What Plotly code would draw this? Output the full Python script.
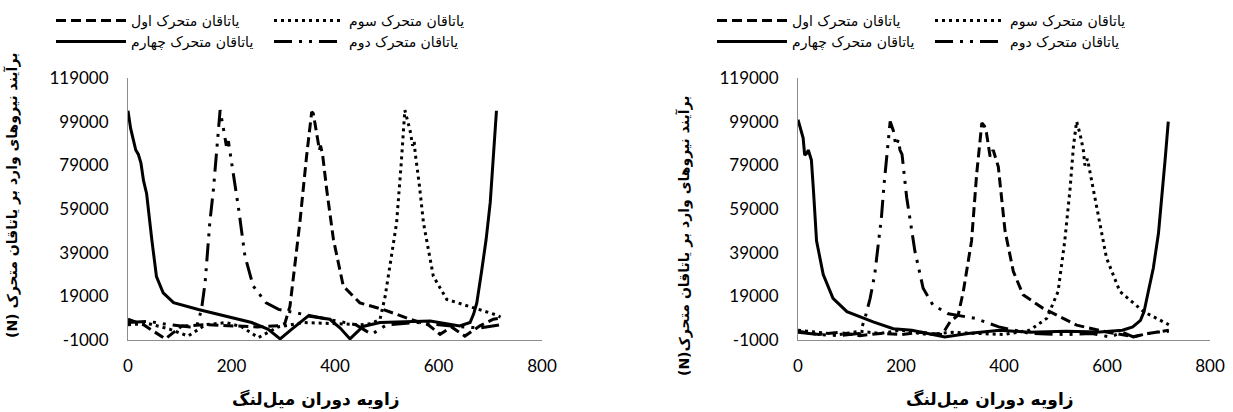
import plotly.graph_objects as go

# ---------------- data ----------------
# Left chart
L1_x = [0, 30, 72, 104, 150, 200, 250, 290, 303, 313, 322, 332, 345, 355, 358, 365, 370, 372, 376, 384, 397, 416, 448, 493, 545, 580, 603, 625, 651, 680, 706, 720]
L1_y = [8500, 6000, -500, 5400, 6000, 5500, 5000, 5500, 6500, 14500, 33000, 52600, 83000, 103500, 102800, 92000, 86000, 88000, 84000, 67800, 45000, 23700, 16000, 13000, 8500, 6000, 1600, 5000, 800, 5500, 8500, 9000]

L2_x = [0, 40, 80, 120, 133, 142, 149, 158, 165, 171, 175, 178, 185, 190, 194, 197, 204, 214, 226, 242, 267, 291, 355, 400, 440, 471, 500, 560, 620, 680, 720]
L2_y = [7000, 7500, 6000, 5000, 5400, 13000, 25200, 52600, 67800, 83000, 95000, 104300, 95000, 88000, 90000, 85300, 75400, 58700, 37400, 23700, 16000, 13000, 10000, 7700, 6000, 1600, 6000, 7000, 5500, 4500, 6000]

L3_x = [0, 40, 80, 116, 150, 190, 220, 252, 290, 340, 400, 450, 470, 487, 497, 508, 519, 528, 535, 545, 550, 553, 555, 563, 571, 590, 616, 667, 709, 720]
L3_y = [6000, 6500, 4000, 800, 6000, 7000, 5000, 100, 5000, 7000, 6500, 6000, 6500, 8500, 19100, 35000, 52600, 80000, 104300, 95000, 88000, 90000, 84600, 70000, 52600, 28200, 17600, 13800, 10700, 9500]

L4_x = [0, 5, 10, 15, 20, 25, 30, 36, 46, 55, 68, 88, 136, 187, 239, 271, 294, 316, 348, 390, 410, 429, 454, 487, 584, 641, 661, 668, 674, 683, 692, 700, 706, 712]
L4_y = [104000, 96000, 91000, 86000, 84000, 80000, 72000, 66000, 45000, 28000, 20600, 16100, 13000, 10000, 7000, 3900, -500, 3900, 10000, 8500, 4500, -500, 5200, 7000, 7700, 5400, 7000, 11000, 16000, 30000, 45000, 62000, 82000, 104000]

# Right chart
R1_x = [0, 40, 80, 120, 160, 200, 240, 280, 295, 311, 321, 337, 347, 357, 362, 366, 373, 379, 389, 402, 418, 437, 476, 541, 599, 630, 651, 680, 716, 720]
R1_y = [3000, 1500, 2500, 1000, 2000, 1500, 2500, 1500, 7300, 10400, 21200, 44400, 75200, 98400, 97000, 93800, 83000, 86000, 78300, 49000, 30500, 19700, 13500, 5800, 2700, 1500, 500, 2000, 3500, 3500]

R2_x = [0, 40, 80, 120, 130, 140, 149, 156, 162, 167, 172, 179, 185, 190, 195, 198, 202, 211, 227, 243, 262, 292, 344, 390, 450, 520, 570, 606, 630, 651, 690, 720]
R2_y = [2500, 1500, 1000, 2000, 8900, 18000, 29000, 42000, 55200, 70000, 83000, 99100, 95000, 88000, 90700, 86000, 84000, 64400, 39700, 22700, 15000, 11000, 8900, 5000, 2000, 1500, 2000, 400, 2500, 400, 2500, 3000]

R3_x = [0, 40, 80, 120, 160, 200, 250, 300, 350, 400, 450, 483, 505, 518, 528, 535, 541, 548, 554, 557, 562, 580, 599, 625, 671, 716, 720]
R3_y = [3500, 2500, 1500, 3000, 2000, 3500, 1500, 2500, 2000, 1500, 3500, 8900, 21200, 44400, 67500, 88000, 99100, 93000, 86000, 79000, 82000, 59800, 36600, 21200, 12000, 6500, 6000]

R4_x = [0, 5, 10, 13, 17, 20, 26, 30, 36, 49, 68, 95, 146, 185, 221, 285, 330, 392, 450, 520, 586, 630, 650, 665, 672, 680, 690, 700, 707, 713, 719]
R4_y = [99900, 95000, 91500, 83700, 84500, 86000, 81400, 67500, 44400, 29000, 18100, 12000, 7300, 4200, 3500, 400, 2000, 3500, 2500, 3000, 2700, 3500, 5000, 8000, 12000, 21000, 32000, 48000, 65000, 82000, 99000]

names = ["یاتاقان متحرک اول", "یاتاقان متحرک دوم", "یاتاقان متحرک سوم", "یاتاقان متحرک چهارم"]
y_ticks = [-1000, 19000, 39000, 59000, 79000, 99000, 119000]
y_tick_text = ["-1000", "19000", "39000", "59000", "79000", "99000", "119000"]
x_ticks = [0, 200, 400, 600, 800]
x_tick_text = ["0", "200", "400", "600", "800"]
x_title = "زاویه دوران میل\u200cلنگ"
y_title_left = "(N) برآیند نیروهای وارد بر یاتاقان متحرک"
y_title_right = "(N)برآیند نیروهای وارد بر یاتاقان متحرک"

# ---------------- styles ----------------
W = 3
dash_1 = "10px,5px"
dash_2 = "18px,7px,3px,7px,3px,7px"
dash_3 = "3px,4px"
dash_4 = "solid"

fig = go.Figure()

def add(x, y, name, dash, xa, ya, legend):
    fig.add_trace(go.Scatter(x=x, y=y, name=name, mode="lines",
                             line=dict(color="black", width=W, dash=dash),
                             xaxis=xa, yaxis=ya, legend=legend))

# left: row1 legend -> اول, سوم ; row2 -> چهارم, دوم
add(L1_x, L1_y, names[0], dash_1, "x", "y", "legend")
add(L3_x, L3_y, names[2], dash_3, "x", "y", "legend")
add(L4_x, L4_y, names[3], dash_4, "x", "y", "legend2")
add(L2_x, L2_y, names[1], dash_2, "x", "y", "legend2")
# right
add(R1_x, R1_y, names[0], dash_1, "x2", "y2", "legend3")
add(R3_x, R3_y, names[2], dash_3, "x2", "y2", "legend3")
add(R4_x, R4_y, names[3], dash_4, "x2", "y2", "legend4")
add(R2_x, R2_y, names[1], dash_2, "x2", "y2", "legend4")

FW, FH = 1233, 412
tick_font = dict(family="Lato", size=17, color="black")
fa_font = dict(family="DejaVu Sans", size=14, color="black")
title_font = dict(family="DejaVu Sans", size=17, color="black")
ytitle_font = dict(family="DejaVu Sans", size=14, color="black")

def xaxis(dom, anchor):
    return dict(domain=dom, anchor=anchor, range=[0, 800], tickvals=x_ticks,
                ticktext=x_tick_text, automargin=False,
                showgrid=False, zeroline=False, showline=True, linecolor="#8c8c8c",
                linewidth=1, ticks="outside", ticklen=11, tickcolor="rgba(0,0,0,0)",
                tickfont=tick_font, fixedrange=True)

def yaxis(dom, anchor):
    return dict(domain=dom, anchor=anchor, range=[-1000, 119000], tickvals=y_ticks,
                ticktext=y_tick_text, automargin=False,
                showgrid=False, zeroline=False, showline=True, linecolor="#8c8c8c",
                linewidth=1, ticks="outside", ticklen=15, tickcolor="rgba(0,0,0,0)",
                tickfont=tick_font, fixedrange=True)

ydom = [72 / FH, (FH - 78) / FH]

def legend(x_px, y_px):
    return dict(orientation="h", x=x_px / FW, y=1 - y_px / FH, xanchor="left",
                yanchor="middle", itemwidth=70, entrywidth=133, entrywidthmode="pixels",
                font=fa_font, bgcolor="rgba(0,0,0,0)", borderwidth=0,
                traceorder="normal", itemclick=False, itemdoubleclick=False)

def ann(text, x, y, font, angle=0):
    return dict(text="<b>" + text + "</b>", x=x / FW, y=1 - y / FH, xref="paper", yref="paper",
                xanchor="center", yanchor="middle", showarrow=False, textangle=angle, font=font)

fig.update_layout(
    width=FW, height=FH,
    margin=dict(l=0, r=0, t=0, b=0),
    paper_bgcolor="white", plot_bgcolor="white",
    xaxis=xaxis([128 / FW, 542 / FW], "y"),
    yaxis=yaxis(ydom, "x"),
    xaxis2=xaxis([798 / FW, 1210 / FW], "y2"),
    yaxis2=yaxis(ydom, "x2"),
    legend=legend(51, 21),
    legend2=legend(51, 42),
    legend3=legend(712, 21),
    legend4=legend(712, 42),
    annotations=[
        ann(x_title, 316, 399, title_font),
        ann(x_title, 990, 399, title_font),
        ann(y_title_left, 12, 196, ytitle_font, -90),
        ann(y_title_right, 684, 236, ytitle_font, -90),
    ],
)

fig.write_html("out.html")
